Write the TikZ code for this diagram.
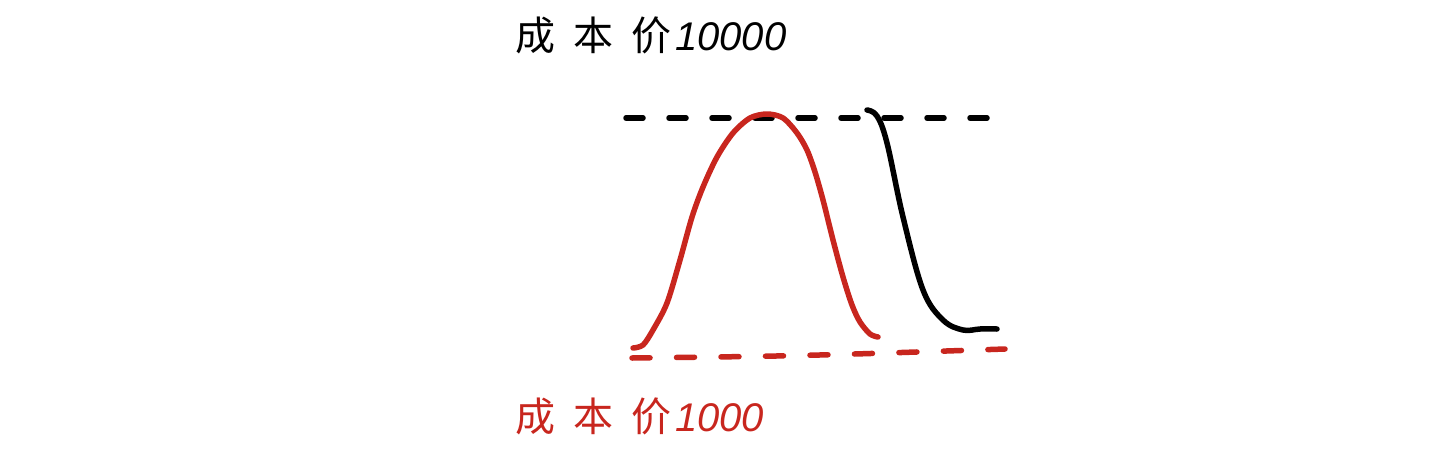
\documentclass[tikz,border=0pt]{standalone}
\usepackage{fontspec}
\newfontfamily\cjk{Noto Sans CJK SC}
\newfontfamily\numfont{Liberation Sans}
\definecolor{penred}{RGB}{200,38,30}
\tikzset{
  pen/.style={line width=5.5pt,line cap=round,line join=round},
  dashpen/.style={line width=5.5pt,line cap=round,dash pattern=on 17pt off 26pt},
  lbl/.style={anchor=base west,inner sep=0pt,font=\cjk\fontsize{40}{44}\selectfont}
}
\begin{document}
\begin{tikzpicture}[x=1pt,y=-1pt]
\useasboundingbox (0,0) rectangle (1440,450);
% labels
\node[lbl] (top) at (515,50) {成\hspace{18pt}本\hspace{18pt}价\hspace{4pt}{\numfont\itshape 10000}};
\node[lbl,text=penred] (bot) at (515,431) {成\hspace{18pt}本\hspace{18pt}价\hspace{4pt}{\numfont\itshape 1000}};
% dashed lines
\coordinate (t1) at (626,118);
\coordinate (t2) at (988,118);
\draw[dashpen] (t1) -- (t2);
\coordinate (b1) at (632,358);
\coordinate (b2) at (1005,349);
\draw[dashpen,penred,dash pattern=on 18pt off 26.5pt] (b1) .. controls (800,356) .. (b2);
% red bell curve
\draw[pen,penred] plot[smooth,tension=0.5] coordinates {
 (633,348) (643,345) (653,330) (667,303) (680,260) (692,217) (703,187) (717,157) (733,133) (750,118) (767,114) (783,118)
 (797,133) (807,150) (815,172) (823,200) (833,240) (843,277) (852,305) (860,322) (870,334) (878,337)};
% black falling curve
\draw[pen] plot[smooth,tension=0.6] coordinates {
 (867,110) (877,116) (887,143) (903,217) (923,290) (943,320) (963,330) (980,329) (997,329)};
\end{tikzpicture}
\end{document}
